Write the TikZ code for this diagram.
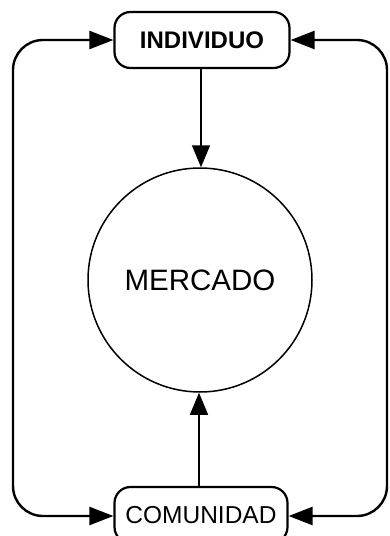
\documentclass[tikz,border=0pt]{standalone}
\usepackage{fontspec}
\setmainfont{Liberation Sans}
\usetikzlibrary{arrows.meta}
\begin{document}
\begin{tikzpicture}[x=1pt,y=-1pt,
  box/.style={draw, line width=2.2pt, rounded corners=16pt, minimum height=56pt, inner sep=0pt, font=\fontsize{24.5}{28}\selectfont},
  loop/.style={line width=2.4pt, rounded corners=30pt, {Triangle[length=24pt,width=18pt]}-{Triangle[length=24pt,width=18pt]}},
  feed/.style={line width=1.6pt, -{Triangle[length=22pt,width=18pt]}}]
\useasboundingbox (0,0) rectangle (390,536);
\node[box, minimum width=175pt, font=\fontsize{24}{28}\selectfont\bfseries] (ind) at (202,40) {INDIVIDUO};
\node[box, minimum width=173pt] (com) at (201,515) {COMUNIDAD};
\node[draw, circle, line width=1.5pt, minimum size=224pt, inner sep=0pt, font=\fontsize{29.5}{32}\selectfont] (mer) at (200,280) {MERCADO};
\coordinate (lt) at (13,40);
\coordinate (lb) at (13,516);
\coordinate (rt) at (387,40);
\coordinate (rb) at (387,516);
\draw[loop] (ind.west |- lt) -- (lt) -- (lb) -- (com.west |- lb);
\draw[loop] (ind.east |- rt) -- (rt) -- (rb) -- (com.east |- rb);
\draw[feed] (ind.south -| 201,0) -- (mer.north -| 201,0);
\draw[feed] (com.north -| 199,0) -- (mer.south -| 199,0);
\end{tikzpicture}
\end{document}
